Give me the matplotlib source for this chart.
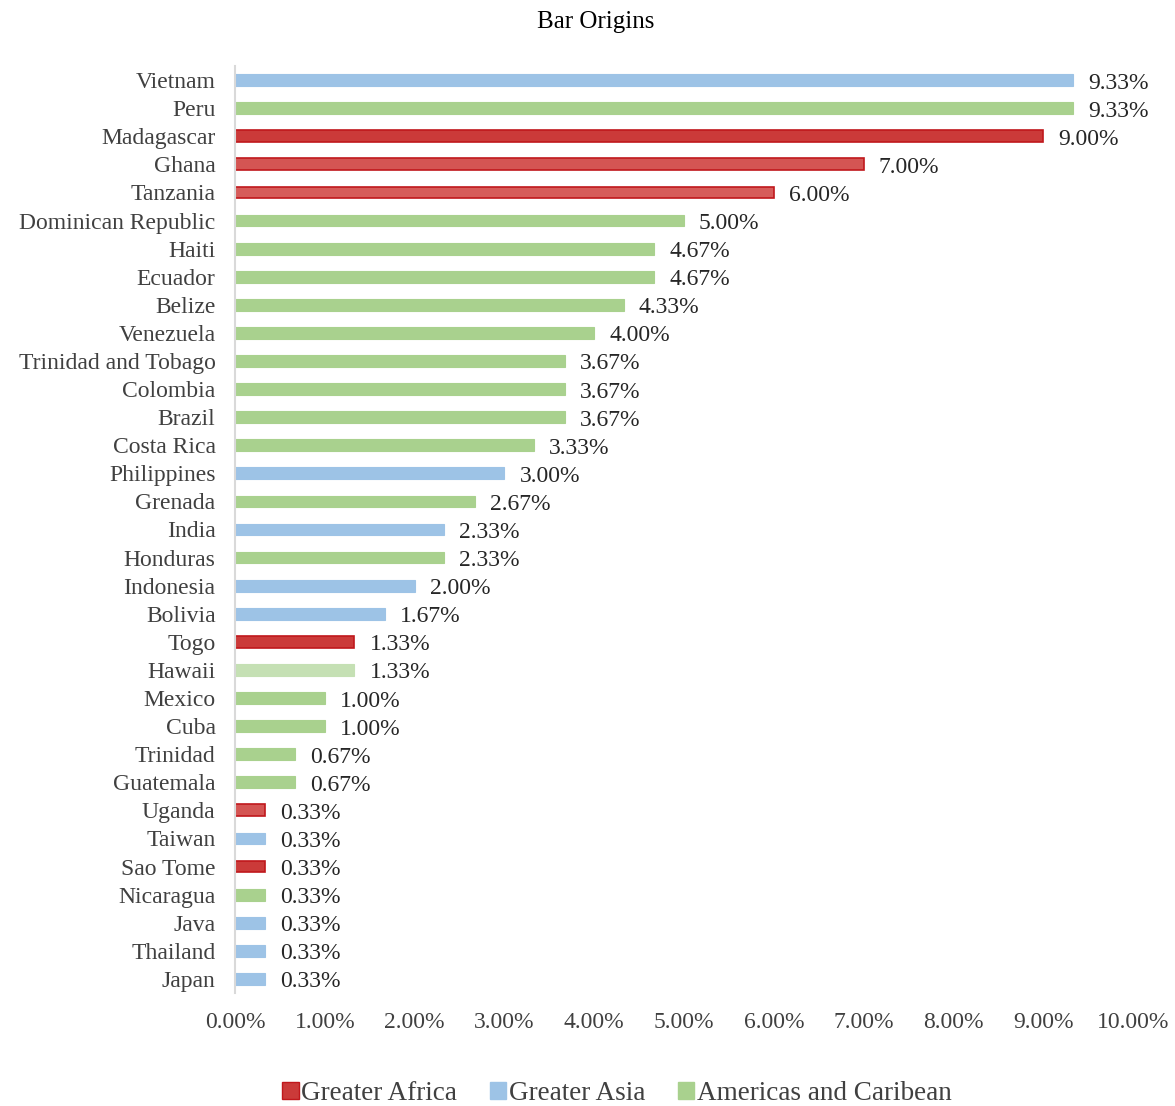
import matplotlib
matplotlib.use("Agg")
import matplotlib.pyplot as plt
from matplotlib.patches import Patch

plt.rcParams['font.family'] = ['Liberation Serif', 'DejaVu Serif']

# origins, top to bottom
countries = ["Vietnam", "Peru", "Madagascar", "Ghana", "Tanzania", "Dominican Republic",
             "Haiti", "Ecuador", "Belize", "Venezuela", "Trinidad and Tobago", "Colombia",
             "Brazil", "Costa Rica", "Philippines", "Grenada", "India", "Honduras",
             "Indonesia", "Bolivia", "Togo", "Hawaii", "Mexico", "Cuba", "Trinidad",
             "Guatemala", "Uganda", "Taiwan", "Sao Tome", "Nicaragua", "Java",
             "Thailand", "Japan"]
shares = [9.33, 9.33, 9.00, 7.00, 6.00, 5.00, 4.67, 4.67, 4.33, 4.00, 3.67, 3.67,
          3.67, 3.33, 3.00, 2.67, 2.33, 2.33, 2.00, 1.67, 1.33, 1.33, 1.00, 1.00,
          0.67, 0.67, 0.33, 0.33, 0.33, 0.33, 0.33, 0.33, 0.33]
regions = ["Asia", "Americas", "Africa", "Africa", "Africa", "Americas",
           "Americas", "Americas", "Americas", "Americas", "Americas", "Americas",
           "Americas", "Americas", "Asia", "Americas", "Asia", "Americas",
           "Asia", "Asia", "Africa", "Americas", "Americas", "Americas", "Americas",
           "Americas", "Africa", "Asia", "Africa", "Americas", "Asia",
           "Asia", "Asia"]

region_names = {"Africa": "Greater Africa", "Asia": "Greater Asia",
                "Americas": "Americas and Caribean"}
fills = {"Africa": "#CB3A39", "Asia": "#9DC3E6", "Americas": "#A9D18E"}
edges = {"Africa": "#C0181C", "Asia": "#9DC3E6", "Americas": "#A9D18E"}
# a few bars are drawn in a lighter shade
lighter = {"Ghana": "#D45553", "Tanzania": "#D65C5A", "Hawaii": "#C5E0B4",
           "Uganda": "#D45553"}

fig = plt.figure(figsize=(11.75, 11.06), dpi=100)
ax = fig.add_axes([0.2, 0.1022, 0.7643, 0.8381])

ypos = list(range(len(countries)))
for y, name, val, reg in zip(ypos, countries, shares, regions):
    face = lighter.get(name, fills[reg])
    edge = edges[reg] if reg == "Africa" else face
    ax.barh(y, val, height=0.42, color=face, edgecolor=edge,
            linewidth=1.2 if reg == "Africa" else 0.8)
    ax.annotate(f"{val:.2f}%", (val, y), xytext=(15, -3), textcoords="offset pixels",
                ha="left", va="center", fontsize=17, color="#262626")

ax.set_xlim(0, 10)
ax.set_ylim(len(countries) - 0.5, -0.5)
ax.set_yticks(ypos)
ax.set_yticklabels(countries, fontsize=17, color="#404040")
ax.set_xticks(range(0, 11))
ax.set_xticklabels([f"{v:.2f}%" for v in range(0, 11)], fontsize=17, color="#404040")
ax.tick_params(axis="y", length=0, pad=14)
ax.tick_params(axis="x", length=0, pad=14)
for side in ["top", "right", "bottom"]:
    ax.spines[side].set_visible(False)
ax.spines["left"].set_color("#D9D9D9")
ax.spines["left"].set_linewidth(1.5)

fig.text(0.507, 0.980, "Bar Origins", ha="center", va="center", fontsize=18)

handles = [Patch(facecolor=fills[r], edgecolor=edges[r] if r == "Africa" else fills[r])
           for r in ["Africa", "Asia", "Americas"]]
fig.legend(handles, [region_names[r] for r in ["Africa", "Asia", "Americas"]],
           loc="center", bbox_to_anchor=(0.525, 0.011), ncol=3, frameon=False,
           fontsize=19.5, handlelength=0.6, handleheight=0.6, handletextpad=0.1,
           columnspacing=1.2, labelcolor="#404040")

fig.savefig("out.png", dpi=100)
